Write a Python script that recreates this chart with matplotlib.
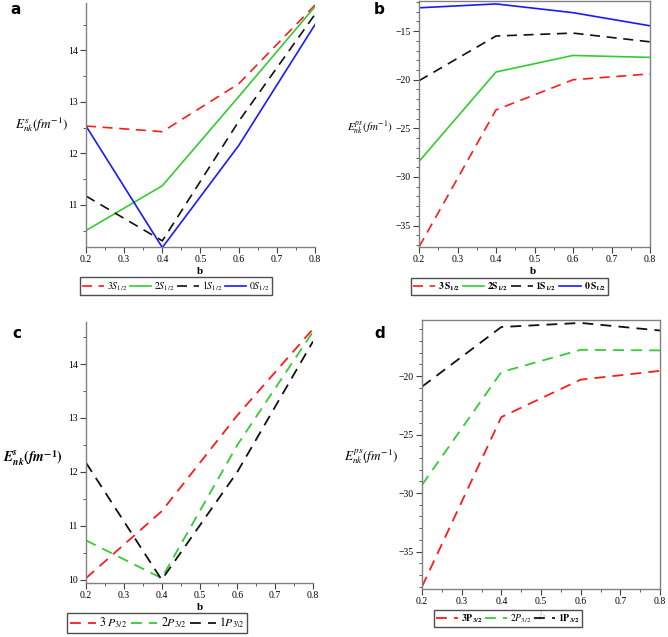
# -*- coding: utf-8 -*-

import matplotlib
matplotlib.use("Agg")
import matplotlib.pyplot as plt
from matplotlib.ticker import MultipleLocator

# データ
b_vals = [0.2, 0.4, 0.6, 0.8]

# (a) S states, scalar part
a_3s = [12.53, 12.42, 13.35, 14.88]
a_2s = [10.50, 11.37, 13.10, 14.85]
a_1s = [11.17, 10.30, 12.62, 14.70]
a_0s = [12.53, 10.17, 12.15, 14.50]

# (b) S states, pseudospin part
b_3s = [-37.2, -23.1, -20.0, -19.4]
b_2s = [-28.4, -19.2, -17.5, -17.7]
b_1s = [-20.1, -15.5, -15.2, -16.1]
b_0s = [-12.6, -12.2, -13.1, -14.45]

# (c) P states, scalar part
c_3p = [10.03, 11.27, 13.05, 14.65]
c_2p = [10.73, 10.03, 12.50, 14.60]
c_1p = [12.17, 10.00, 12.00, 14.42]

# (d) P states, pseudospin part
d_3p = [-38.0, -23.5, -20.3, -19.55]
d_2p = [-29.3, -19.65, -17.75, -17.8]
d_1p = [-20.9, -15.8, -15.45, -16.1]

W, H = 668, 637
RED = "#ff1a1a"
GREEN = "#33cc33"
BLUE = "#1a1aff"
BLACK = "#111111"
DASH = (0, (6, 4))

plt.rcParams["font.family"] = ["Liberation Serif", "DejaVu Serif"]
plt.rcParams["mathtext.fontset"] = "stix"


def px_axes(fig, left, top, right, bottom):
    """ピクセル座標から Axes を作る"""
    return fig.add_axes([left / W, 1 - bottom / H, (right - left) / W, (bottom - top) / H])


def set_display(ax, ylim, ymajor, yminor, box):
    # 枠線
    for s in ["left", "bottom", "right", "top"]:
        ax.spines[s].set_color("#808080")
        ax.spines[s].set_linewidth(1.0)
    if not box:
        ax.spines["right"].set_visible(False)
        ax.spines["top"].set_visible(False)

    ax.set_xlim(0.2, 0.8)
    ax.set_ylim(*ylim)
    ax.xaxis.set_major_locator(MultipleLocator(0.1))
    ax.xaxis.set_minor_locator(MultipleLocator(0.05))
    ax.yaxis.set_major_locator(MultipleLocator(ymajor))
    ax.yaxis.set_minor_locator(MultipleLocator(yminor))
    ax.tick_params(which="major", direction="out", length=4, width=0.8,
                   color="#404040", labelsize=7, pad=2)
    ax.tick_params(which="minor", direction="out", length=2, width=0.6, color="#404040")
    ax.set_xticks([0.2, 0.3, 0.4, 0.5, 0.6, 0.7, 0.8])
    ax.set_xticklabels(["0.2", "0.3", "0.4", "0.5", "0.6", "0.7", "0.8"])


def add_legend(fig, ax, x, y, ncol=4, fs=7):
    leg = fig.legend(*ax.get_legend_handles_labels(), loc="upper left",
                     bbox_to_anchor=(x / W, 1 - y / H), ncol=ncol, fontsize=fs,
                     frameon=True, fancybox=False, handlelength=2.2,
                     handletextpad=0.3, columnspacing=0.3, borderpad=0.25,
                     borderaxespad=0)
    leg.get_frame().set_edgecolor("#222222")
    leg.get_frame().set_linewidth(1.0)
    return leg


def main():
    fig = plt.figure(figsize=(W / 100, H / 100), dpi=100)

    # (a)
    ax = px_axes(fig, 86, 3, 315, 247)
    ax.plot(b_vals, a_3s, color=RED, linestyle=DASH, lw=1.2, label=r"$3S_{1/2}$")
    ax.plot(b_vals, a_2s, color=GREEN, lw=1.2, label=r"$2S_{1/2}$")
    ax.plot(b_vals, a_1s, color=BLACK, linestyle=DASH, lw=1.2, label=r"$1S_{1/2}$")
    ax.plot(b_vals, a_0s, color=BLUE, lw=1.2, label=r"$0S_{1/2}$")
    set_display(ax, (10.18, 14.92), 1, 0.5, False)
    ax.set_yticks([11, 12, 13, 14])
    add_legend(fig, ax, 80, 277)
    fig.text(200 / W, 1 - 271 / H, "b", ha="center", va="center", fontsize=8, fontweight="bold")
    fig.text(42 / W, 1 - 125 / H, r"$E^{s}_{nk}(fm^{-1})$", ha="center", va="center", fontsize=9.5)
    fig.text(10 / W, 1 - 9 / H, "a", ha="left", va="center", fontsize=11,
             fontweight="bold", family="DejaVu Sans")

    # (b)
    ax = px_axes(fig, 419, 1, 650, 247)
    ax.plot(b_vals, b_3s, color=RED, linestyle=DASH, lw=1.2, label=r"$\mathbf{3\,S_{1/2}}$")
    ax.plot(b_vals, b_2s, color=GREEN, lw=1.2, label=r"$\mathbf{2S_{1/2}}$")
    ax.plot(b_vals, b_1s, color=BLACK, linestyle=DASH, lw=1.2, label=r"$\mathbf{1S_{1/2}}$")
    ax.plot(b_vals, b_0s, color=BLUE, lw=1.2, label=r"$\mathbf{0\,S_{1/2}}$")
    set_display(ax, (-37.2, -11.9), 5, 1, True)
    ax.set_yticks([-35, -30, -25, -20, -15])
    add_legend(fig, ax, 411, 278, fs=7)
    fig.text(533 / W, 1 - 271 / H, "b", ha="center", va="center", fontsize=8, fontweight="bold")
    fig.text(370 / W, 1 - 128 / H, r"$E^{ps}_{nk}(fm^{-1})$", ha="center", va="center", fontsize=8)
    fig.text(374 / W, 1 - 9 / H, "b", ha="left", va="center", fontsize=11,
             fontweight="bold", family="DejaVu Sans")

    # (c)
    ax = px_axes(fig, 86, 322, 313, 583)
    ax.plot(b_vals, c_3p, color=RED, linestyle=DASH, lw=1.3, label=r"$3\ P_{3/2}$")
    ax.plot(b_vals, c_2p, color=GREEN, linestyle=DASH, lw=1.3, label=r"$2P_{3/2}$")
    ax.plot(b_vals, c_1p, color=BLACK, linestyle=DASH, lw=1.3, label=r"$1P_{3\backslash 2}$")
    set_display(ax, (9.94, 14.78), 1, 0.5, False)
    ax.set_yticks([10, 11, 12, 13, 14])
    add_legend(fig, ax, 67, 613, ncol=3, fs=8.5)
    fig.text(200 / W, 1 - 607 / H, "b", ha="center", va="center", fontsize=8, fontweight="bold")
    fig.text(33 / W, 1 - 458 / H, r"$\mathbfit{E}^{\mathbfit{s}}_{\mathbfit{nk}}\mathbf{(}\mathbfit{fm}^{\mathbf{-1}}\mathbf{)}$",
             ha="center", va="center", fontsize=10)
    fig.text(12 / W, 1 - 333 / H, "c", ha="left", va="center", fontsize=11,
             fontweight="bold", family="DejaVu Sans")

    # (d)
    ax = px_axes(fig, 422, 320, 660, 589)
    ax.plot(b_vals, d_3p, color=RED, linestyle=DASH, lw=1.3, label=r"$\mathbf{3P_{3/2}}$")
    ax.plot(b_vals, d_2p, color=GREEN, linestyle=DASH, lw=1.3, label=r"$2P_{3/2}$")
    ax.plot(b_vals, d_1p, color=BLACK, linestyle=DASH, lw=1.3, label=r"$\mathbf{1P_{3/2}}$")
    set_display(ax, (-38.2, -15.2), 5, 1, True)
    ax.set_yticks([-35, -30, -25, -20])
    add_legend(fig, ax, 434, 610, ncol=3)
    fig.text(542 / W, 1 - 616 / H, r"$b$", ha="center", va="center", fontsize=9)
    fig.text(371 / W, 1 - 457 / H, r"$E^{ps}_{nk}(fm^{-1})$", ha="center", va="center", fontsize=9.5)
    fig.text(374 / W, 1 - 333 / H, "d", ha="left", va="center", fontsize=11,
             fontweight="bold", family="DejaVu Sans")

    fig.savefig("out.png", dpi=100)


if __name__ == '__main__':
    main()
